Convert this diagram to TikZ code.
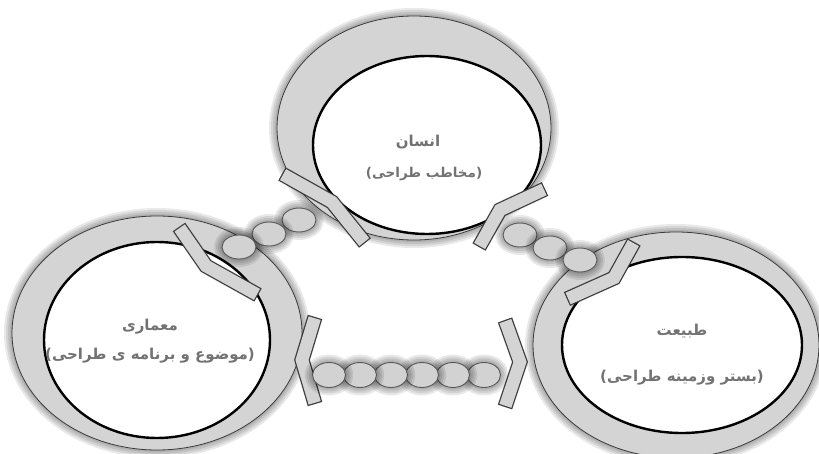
\documentclass[tikz,border=0pt]{standalone}
\usepackage{fontspec}
\newfontfamily\fa[Script=Arabic]{DejaVu Sans}
\TeXXeTstate=1
\definecolor{ringgray}{HTML}{D4D4D4}
\definecolor{edgegray}{HTML}{3A3A3A}
\definecolor{beadgray}{HTML}{D2D2D2}
\definecolor{textgray}{HTML}{727272}
\tikzset{
  ringfill/.style={fill=ringgray, even odd rule},
  outerline/.style={draw=edgegray, line width=0.8pt},
  innerline/.style={draw=black, line width=2.4pt, fill=white},
  beadshape/.style={fill=beadgray, draw=edgegray!85, line width=0.9pt},
  lbl/.style={font=\fa\bfseries\fontsize{15}{17}\selectfont, text=textgray, inner sep=0pt},
  sublbl/.style={font=\fa\bfseries\fontsize{15}{17}\selectfont, text=textgray, inner sep=0pt},
  smallsub/.style={font=\fa\bfseries\fontsize{13.5}{16}\selectfont, text=textgray, inner sep=0pt},
}
\newcommand\glowit[1]{\foreach \w in {16,12,8,4}{\draw[black, opacity=0.085, line width=\w pt, line join=round] #1;}}
\newcommand\stripit[1]{%
  \glowit{#1}
  \draw[edgegray, line width=15pt, line join=miter, miter limit=10] #1;
  \draw[ringgray, line width=12.6pt, line join=miter, miter limit=10, shorten <=1.2pt, shorten >=1.2pt] #1;}
\newcommand\ringit[4]{% outer centre, outer radii, inner centre, inner radii
  \glowit{(#1) ellipse [#2]}
  \fill[ringfill] (#1) ellipse [#2] (#3) ellipse [#4];
  \draw[outerline] (#1) ellipse [#2];
  \draw[innerline] (#3) ellipse [#4];}
\newcommand\beadit[2]{%
  \glowit{(#1) ellipse [#2]}
  \draw[beadshape] (#1) ellipse [#2];}
\begin{document}
\begin{tikzpicture}[x=1pt,y=-1pt]
\useasboundingbox[fill=white] (0,0) rectangle (819,454);
% rings
\ringit{414,128}{x radius=137, y radius=112}{427,145}{x radius=114, y radius=89}
\ringit{157,333}{x radius=145, y radius=117}{157,340}{x radius=113, y radius=98}
\ringit{676,345}{x radius=143, y radius=113}{682,345}{x radius=120, y radius=88}
% brackets
\coordinate (b1a) at (282,174); \coordinate (b1b) at (332,202); \coordinate (b1c) at (365,243);
\coordinate (b2a) at (545,189); \coordinate (b2b) at (500,210); \coordinate (b2c) at (479,247);
\coordinate (b3a) at (179,227); \coordinate (b3b) at (206,266); \coordinate (b3c) at (258,295);
\coordinate (b4a) at (634,242); \coordinate (b4b) at (614,278); \coordinate (b4c) at (567,299);
\coordinate (b5a) at (315,317); \coordinate (b5b) at (302,360); \coordinate (b5c) at (315,404);
\coordinate (b6a) at (505,320); \coordinate (b6b) at (520,362); \coordinate (b6c) at (505,407);
\stripit{(b1a) -- (b1b) -- (b1c)}
\stripit{(b2a) -- (b2b) -- (b2c)}
\stripit{(b3a) -- (b3b) -- (b3c)}
\stripit{(b4a) -- (b4b) -- (b4c)}
\stripit{(b5a) -- (b5b) -- (b5c)}
\stripit{(b6a) -- (b6b) -- (b6c)}
% bead chains
\foreach \p in {{299,220},{269,234},{239,247}}{\beadit{\p}{x radius=17, y radius=12}}
\foreach \p in {{520,235},{550,248},{580,260}}{\beadit{\p}{x radius=17, y radius=12}}
\foreach \x in {484,453,422,391,360,329}{\beadit{\x,375}{x radius=16.5, y radius=12.5}}
% labels
\node[lbl] (insan) at (418,142) {\beginR انسان\endR};
\node[smallsub] (insansub) at (424,174) {\beginR (مخاطب طراحی)\endR};
\node[lbl] (memari) at (150,327) {\beginR معماری\endR};
\node[sublbl] (memarisub) at (150,356) {\beginR (موضوع و برنامه ی طراحی)\endR};
\node[lbl] (tabiat) at (682,331) {\beginR طبیعت\endR};
\node[sublbl] (tabiatsub) at (682,378) {\beginR (بستر وزمینه طراحی)\endR};
\end{tikzpicture}
\end{document}
